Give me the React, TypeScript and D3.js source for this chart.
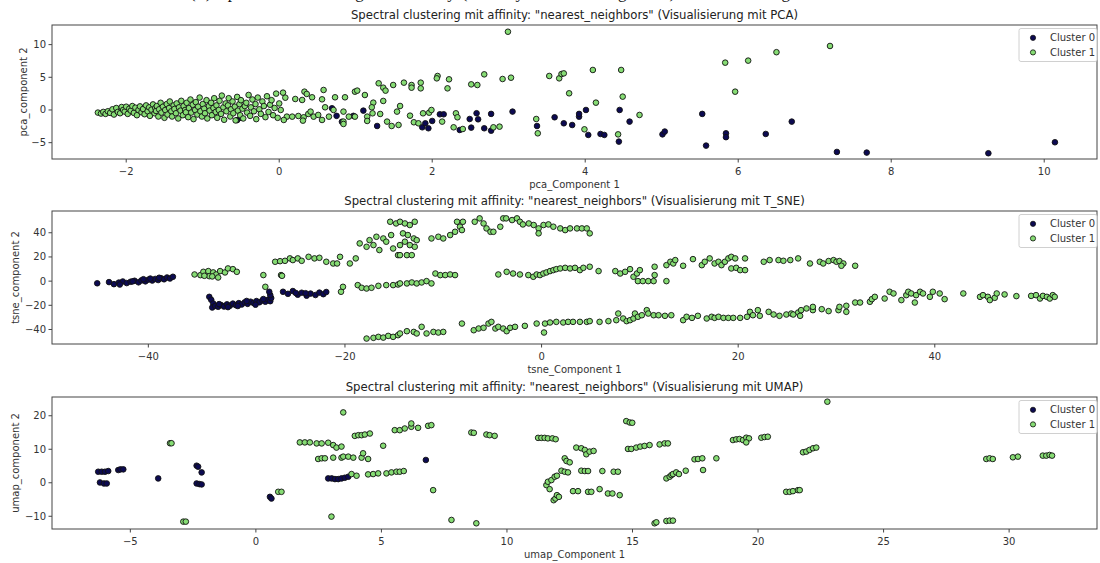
import React from 'react';
import * as d3 from 'd3';

type Pt = [number, number];

// ---- PCA ----
const pcaCluster0: Pt[] = [
  [-0.55, -1.55], [-0.5, -1.2], [0.69, 0.26], [0.75, -0.9], [1.1, -0.1], [0.97, -0.9], [1.28, -2.45], [0.82, -1.8],
  [1.87, -2.65], [1.95, -2.8], [1.91, -2.04], [2.0, -1.68], [2.1, -0.66], [2.15, -0.66], [2.36, -3.06], [2.51, -2.7],
  [2.49, -1.38], [2.58, -0.5], [2.6, -1.43], [2.68, -2.8], [2.77, -3.16], [2.77, -0.6], [3.05, -0.25], [3.37, -2.45],
  [3.6, -1.12], [3.72, -2.04], [3.83, -2.3], [3.92, -1.02], [3.92, -0.6], [4.01, 0], [4.04, -3.82], [4.2, -3.67],
  [4.25, -3.82], [4.45, 0], [4.44, -4.84], [4.58, -1.78], [5.01, -3.73], [5.04, -3.3], [5.53, -0.6], [5.58, -5.45],
  [5.84, -3.57], [5.84, -4.16], [6.36, -3.67], [6.7, -1.78], [7.29, -6.42], [7.68, -6.52], [9.27, -6.62], [10.14, -4.94],
];

const pcaCluster1: Pt[] = [
  [-2.37, -0.4], [-2.33, -0.55], [-2.3, -0.3], [-2.27, -0.6], [-2.24, -0.2], [-2.21, -0.45], [-2.18, 0.1], [-2.16, -0.7],
  [-2.13, 0.3], [-2.11, -0.3], [-2.08, -0.5], [-2.06, 0.45], [-2.04, 0.0], [-2.02, -0.25], [-2.0, 0.5],
  [-1.98, -0.6], [-1.96, 0.2], [-1.94, -0.1], [-1.92, 0.6], [-1.9, -0.45], [-1.88, 0.35], [-1.86, -0.8], [-1.84, 0.0],
  [-1.82, 0.55], [-1.8, -0.35], [-1.78, 0.15], [-1.76, -0.65], [-1.74, 0.7], [-1.72, -0.2], [-1.7, 0.4], [-1.69, -0.9],
  [-1.67, 0.05], [-1.65, 0.85], [-1.63, -0.5], [-1.62, 0.3], [-1.61, -0.15], [-1.6, 0.6],
  [-1.58, -1.0], [-1.57, 0.1], [-1.55, 1.1], [-1.54, -0.4], [-1.52, 0.5], [-1.5, -1.2], [-1.49, 0.0], [-1.47, 0.9],
  [-1.46, -0.7], [-1.44, 0.3], [-1.43, 1.3], [-1.41, -0.2], [-1.4, -1.0], [-1.38, 0.7], [-1.37, 0.15], [-1.35, -0.5],
  [-1.34, 1.0], [-1.32, -1.3], [-1.31, 0.4], [-1.29, -0.1], [-1.28, 1.4], [-1.26, -0.8], [-1.25, 0.6], [-1.23, 0.0],
  [-1.22, -0.35], [-1.21, 1.1],
  [-1.19, -1.1], [-1.18, 0.3], [-1.16, 1.6], [-1.15, -0.4], [-1.13, 0.8], [-1.12, -1.4], [-1.1, 0.0], [-1.09, 1.2],
  [-1.07, -0.7], [-1.06, 0.5], [-1.04, 1.9], [-1.03, -0.2], [-1.01, -1.0], [-1.0, 0.9], [-0.98, 0.2], [-0.97, -0.5],
  [-0.95, 1.5], [-0.94, -1.3], [-0.92, 0.6], [-0.91, -0.1], [-0.89, 1.1], [-0.88, -0.8], [-0.86, 0.3], [-0.85, 1.8],
  [-0.83, -0.3], [-0.82, 0.7], [-0.81, -1.2],
  [-0.79, 0.0], [-0.78, 1.4], [-0.76, -0.6], [-0.75, 2.2], [-0.73, 0.4], [-0.72, -1.5], [-0.7, 1.0], [-0.69, -0.2],
  [-0.67, 0.7], [-0.66, 1.8], [-0.64, -1.0], [-0.63, 0.1], [-0.61, 1.3], [-0.6, -0.5], [-0.58, 0.5], [-0.57, -1.6],
  [-0.55, 2.0], [-0.54, -0.1], [-0.52, 0.9], [-0.51, -0.8], [-0.5, 1.5], [-0.48, 0.2], [-0.47, -1.3], [-0.45, 0.6],
  [-0.43, 1.1], [-0.42, -0.4],
  [-0.4, 2.3], [-0.38, -0.9], [-0.37, 0.4], [-0.35, 1.6], [-0.33, -0.2], [-0.31, 0.9], [-0.3, -1.4], [-0.28, 1.9],
  [-0.26, 0.1], [-0.24, -0.6], [-0.22, 1.3], [-0.2, 0.6], [-0.18, -1.1], [-0.16, 2.1], [-0.14, -0.3], [-0.12, 0.8],
  [-0.1, 1.5], [-0.08, -0.8], [-0.06, 0.3], [-0.04, 2.5], [-0.02, -1.2], [0.0, 1.0], [0.02, 0.0],
  [0.05, 2.65], [0.08, 1.88], [0.21, 1.68], [0.3, 1.53], [0.33, 2.8], [0.36, 2.45], [0.43, 1.94], [0.58, 3.06],
  [0.56, 1.63], [0.73, 1.94], [0.86, 1.94], [0.99, 2.8], [1.02, 2.96], [1.12, 2.29], [1.23, 1.12], [1.3, 4.08],
  [1.36, 3.41], [1.39, 2.96], [1.49, 3.82], [1.36, 1.38], [1.54, -0.25], [1.47, -2.45], [1.56, -2.29],
  [0.1, -1.02], [0.06, -1.53], [0.17, -1.02], [0.25, -0.92], [0.32, -1.12], [0.38, -0.61], [0.31, -1.63], [0.45, -1.02],
  [0.51, -0.76], [0.56, -1.53], [0.65, -1.02], [0.84, -0.25], [0.91, -1.02], [0.84, -1.78], [0.84, -2.14], [0.99, -1.02],
  [1.15, -1.02], [1.15, -1.68], [1.21, 0.41], [1.22, -0.51], [1.32, -0.61], [1.41, -1.78], [0.6, 0.41], [0.71, 0.0],
  [0.41, -0.25], [1.58, 0.61],
  [2.99, 11.97], [1.63, 4.18], [1.73, 3.82], [1.73, 3.41], [1.85, 4.18], [1.85, 3.31], [2.07, 5.2], [2.06, 4.84],
  [2.22, 4.69], [2.2, 3.31], [2.51, 3.92], [2.59, 3.82], [2.68, 5.45], [2.92, 4.74], [3.03, 4.94],
  [1.71, -0.87], [1.76, -1.88], [1.82, -2.04], [1.88, -0.51], [1.96, -0.41], [1.99, 0], [2.13, -1.78], [2.31, -0.51],
  [2.33, -1.12], [2.28, -2.65], [2.4, -2.91], [2.8, -2.65], [2.88, -2.55],
  [3.53, 5.2], [3.66, 4.84], [3.69, 5.5], [3.72, 5.6], [3.79, 2.55], [3.36, -1.38], [3.38, -3.57], [3.99, -2.96],
  [4.1, 6.12], [4.14, 1.12], [4.47, 6.12], [4.49, 2.04], [4.43, -3.73], [4.71, -0.76], [5.83, 7.24], [6.13, 7.55],
  [5.96, 2.8], [6.5, 8.84], [7.2, 9.79],
];

// ---- T-SNE ----
const tsneCluster0: Pt[] = [
  [-45.2, -1.8], [-44.0, -0.8], [-43.5, -2.5], [-43.0, -1.2], [-42.6, -0.3], [-42.2, -1.6], [-41.8, -0.5], [-41.4, 0.3],
  [-41.0, -1.0], [-40.7, 0.6], [-40.3, -0.2], [-40.0, 1.2], [-39.6, 0.5], [-39.3, 1.8], [-39.0, 0.9], [-38.7, 2.4],
  [-38.4, 1.5], [-38.1, 3.0], [-37.8, 2.2], [-37.5, 3.6], [-42.9, -2.8], [-41.6, -0.2], [-40.5, 1.6], [-39.8, 2.1],
  [-38.9, 2.8],
  [-33.8, -13], [-33.6, -15.5], [-33.4, -18.5], [-33.5, -21.8], [-33.2, -20.5], [-32.9, -21.2], [-32.6, -19.8],
  [-32.3, -21], [-32.0, -19.2], [-31.7, -20.3], [-31.4, -18.6], [-31.1, -19.9], [-30.8, -18.2], [-30.5, -19.3],
  [-30.2, -17.6], [-29.9, -18.8], [-29.6, -17.0], [-29.3, -18.1], [-29.0, -16.5], [-28.7, -17.5], [-28.4, -16.0],
  [-28.1, -17.0], [-27.8, -15.3], [-27.6, -16.6], [-27.5, -14.0], [-27.6, -11.5], [-27.7, -8.8], [-32.8, -19.0],
  [-31.9, -21.5], [-30.9, -20.6], [-30.0, -16.4], [-29.1, -19.5], [-28.3, -14.8],
  [-26.3, -8.8], [-25.8, -10.5], [-25.3, -8.2], [-24.8, -11.2], [-24.4, -9.6], [-23.9, -12.0], [-23.5, -10.3],
  [-23.0, -11.5], [-22.6, -9.5], [-22.2, -10.8], [-21.9, -9.0], [-25.0, -9.8], [-24.0, -10.0],
];

const tsneCluster1: Pt[] = [
  [-35.3, 5.5], [-34.7, 4.96], [-34.4, 7.7], [-33.9, 8.3], [-33.4, 7.2], [-33.8, 4.1], [-33.1, 5.5], [-32.9, 3.0],
  [-32.7, 8.3], [-32.2, 7.2], [-31.9, 10.5], [-31.4, 9.9], [-31.0, 7.7], [-34.3, 4.4], [-33.5, 3.9], [-28.3, 5.0],
  [-28.1, -4.7], [-26.5, 5.0], [-26.4, 4.4], [-27.1, 16.0], [-26.6, 16.5], [-26.1, 16.8], [-25.6, 18.8], [-25.3, 17.4],
  [-24.8, 18.8], [-24.4, 16.8], [-23.7, 20.1], [-23.1, 18.8], [-22.6, 19.3], [-21.9, 16.0], [-21.2, 14.6], [-20.8, 14.6],
  [-20.5, 20.1], [-19.5, 14.6], [-18.9, 18.8],
  [-20.4, -8.8], [-20.2, -4.7], [-18.7, -3.3], [-18.3, -5.5], [-17.8, -6.1], [-17.3, -5.5], [-16.6, -3.9], [-15.8, -3.3],
  [-15.1, -3.3], [-14.6, -2.8],
  [-18.5, 31.2], [-17.8, 28.4], [-17.5, 33.9], [-17.1, 29.8], [-16.8, 36.7], [-16.5, 25.7], [-16.1, 35.3], [-15.8, 32.6],
  [-15.4, 49.1], [-15.3, 38.1], [-15.1, 27.0], [-14.8, 47.7], [-14.6, 21.5],
  [-17.8, -47.5], [-17.1, -46.9], [-16.6, -46.1], [-16.1, -46.7], [-15.6, -45.3], [-15.1, -46.1], [-14.6, -44.7],
  [-14.4, 49.1], [-13.9, 47.7], [-13.4, 46.4], [-12.9, 49.1], [-14.1, 39.5], [-13.6, 38.1], [-13.0, 35.3], [-13.9, 32.6],
  [-13.4, 29.8], [-12.9, 28.4], [-12.7, 33.9], [-14.4, 29.8], [-14.4, 21.5], [-13.7, 21.5], [-13.2, 21.5], [-11.2, 35.3],
  [-10.5, 36.7], [-10.0, 35.3], [-9.3, 38.1], [-8.8, 40.8], [-8.6, 49.1], [-8.3, 45.0], [-8.0, 49.1], [-8.1, 42.2],
  [-6.8, 49.1], [-6.3, 51.9], [-5.9, 47.7], [-5.6, 43.6], [-5.2, 40.8], [-4.9, 40.8], [-4.2, 45.0], [-3.9, 51.9],
  [-3.6, 51.9], [-3.0, 50.5], [-2.5, 51.9], [-2.2, 49.1], [-1.9, 46.9], [-1.3, 47.7], [-0.8, 46.4], [-0.3, 43.6],
  [-0.3, 39.5], [0.2, 46.4], [0.7, 46.9], [1.2, 45.0], [1.9, 43.6], [2.4, 42.2], [2.9, 43.6], [3.6, 43.6], [4.1, 43.6],
  [4.6, 43.6], [4.9, 39.5],
  [-14.4, -1.9], [-13.7, -1.9], [-13.2, -1.1], [-12.7, -1.9], [-12.2, -1.1], [-11.7, 0.0], [-11.2, -1.9], [-10.8, 6.3],
  [-10.3, 4.96], [-9.8, 5.0], [-9.3, 5.5], [-8.8, 5.0], [-4.4, 5.5], [-3.55, 7.7], [-2.9, 6.3], [-2.2, 5.5], [-1.35, 5.0],
  [-0.84, 3.6], [-0.5, 5.5], [-0.16, 5.0], [0.18, 6.3], [0.5, 7.2], [0.86, 8.3], [1.2, 9.1], [1.5, 9.9], [1.9, 10.5],
  [2.4, 11.0], [2.9, 10.5], [3.4, 11.0], [3.9, 9.1], [4.25, 11.0], [4.9, 11.9], [5.8, 8.3], [7.5, 8.3], [8.0, 6.3],
  [8.5, 7.7], [9.0, 9.9], [9.35, 3.6], [9.7, 6.3], [10.0, 9.1], [9.8, 0.0], [10.3, 0.0], [10.85, 0.0], [11.4, 0.0],
  [11.5, 5.0], [11.5, 11.9], [12.7, 0.0], [12.7, 13.2], [13.1, 16.0], [13.4, 14.6], [13.6, 17.4], [14.4, 12.7],
  [15.4, 18.2], [16.3, 13.2], [16.6, 16.0], [17.1, 18.8], [17.6, 14.6], [18.0, 16.0], [18.3, 13.2], [18.65, 16.0],
  [19.0, 18.8], [19.3, 20.1], [19.7, 18.8], [19.3, 10.5], [19.8, 11.0], [20.2, 9.1], [20.7, 9.1], [20.7, 18.8],
  [22.6, 16.0], [23.2, 17.4], [24.1, 17.4], [24.6, 16.8], [25.3, 17.4], [26.1, 18.8], [27.3, 14.6], [28.3, 16.0],
  [28.65, 14.6], [29.2, 16.6], [29.7, 17.4], [30.0, 16.0], [30.3, 16.6], [30.7, 14.6], [30.5, 12.7], [31.9, 12.7],
  [-14.4, -43.3], [-13.7, -41.4], [-13.0, -42.0], [-12.7, -43.3], [-12.2, -37.8], [-11.7, -43.3], [-11.0, -42.0],
  [-10.5, -42.5], [-10.0, -42.0], [-8.1, -35.1], [-6.9, -40.6], [-6.4, -39.2], [-5.9, -38.6], [-5.4, -35.1],
  [-5.1, -33.7], [-4.7, -39.2], [-4.4, -37.8], [-3.9, -39.2], [-3.55, -41.4], [-3.2, -38.6], [-2.7, -37.8],
  [-1.7, -37.0], [-0.5, -35.1], [0.25, -42.5], [0.35, -35.1], [0.86, -34.2], [1.5, -33.7], [2.2, -34.2], [2.7, -33.7],
  [3.2, -33.7], [3.9, -33.7], [4.6, -33.7], [4.9, -33.1], [5.9, -33.7], [6.8, -33.1], [7.6, -32.3], [7.8, -26.8],
  [8.3, -30.9], [8.65, -33.1], [9.0, -32.3], [9.35, -30.9], [9.5, -26.8], [9.8, -29.5], [10.2, -28.2], [10.7, -24.0],
  [10.85, -26.8], [11.4, -28.2], [11.9, -28.2], [12.55, -28.7], [13.2, -28.2], [14.4, -32.3], [14.75, -29.5],
  [15.3, -30.4], [15.9, -28.7], [16.8, -30.9], [17.3, -29.5], [17.6, -30.4], [18.0, -29.5], [18.5, -30.4],
  [19.0, -30.4], [19.5, -30.4], [20.2, -30.4], [20.9, -29.5], [21.2, -25.4], [21.5, -28.2], [22.0, -24.0],
  [22.2, -28.7], [23.1, -25.4], [23.6, -27.6], [24.2, -28.7], [24.9, -27.6], [25.4, -26.8], [26.1, -26.0],
  [25.6, -27.6], [26.3, -28.7], [26.4, -24.0], [26.95, -22.6], [27.6, -24.0], [27.6, -21.3], [28.5, -23.2],
  [29.2, -24.8], [30.2, -24.0], [30.3, -21.3], [31.0, -25.4], [31.0, -20.4], [31.9, -17.7], [32.4, -17.7],
  [33.4, -17.1], [33.6, -14.9], [33.9, -13.0], [34.9, -14.4], [35.4, -8.8], [35.8, -10.2], [36.6, -15.7],
  [37.1, -11.6], [37.3, -8.8], [37.6, -10.2], [37.97, -17.7], [38.1, -11.6], [38.5, -8.8], [38.8, -10.2],
  [39.5, -13.0], [39.8, -8.8], [40.5, -10.2], [41.0, -14.9], [42.9, -10.2], [44.6, -13.0], [44.9, -11.6],
  [45.4, -13.0], [45.6, -15.7], [46.1, -13.8], [46.3, -10.2], [47.1, -11.0], [48.3, -12.4], [49.8, -12.2],
  [50.3, -11.6], [50.7, -14.4], [51.0, -12.2], [51.4, -13.0], [51.7, -14.4], [52.0, -11.6], [52.2, -13.0],
];

// ---- UMAP ----
const umapCluster0: Pt[] = [
  [-6.28, 3.3], [-6.14, 3.3], [-6.01, 3.3], [-5.88, 3.5], [-6.21, 0.1], [-6.05, -0.2], [-5.94, -0.2], [-5.48, 3.8],
  [-5.39, 4.0], [-5.28, 4.0], [-3.89, 1.3], [-2.36, 5.1], [-2.3, 4.8], [-2.16, 3.1], [-2.36, -0.2], [-2.25, -0.4],
  [-2.16, -0.5], [0.56, -4.2], [0.62, -4.7], [2.88, 1.3], [3.02, 1.3], [3.15, 1.1], [3.28, 1.1], [3.41, 1.3],
  [3.54, 1.5], [3.68, 1.8], [6.77, 6.8],
];

const umapCluster1: Pt[] = [
  [-3.42, 11.8], [-3.36, 11.8], [-2.89, -11.6], [-2.79, -11.6], [0.89, -2.7], [1.02, -2.7], [1.75, 12.05], [1.95, 12.05],
  [2.15, 12.05], [2.42, 11.75], [2.62, 11.75], [2.88, 11.95], [3.08, 11.25], [3.21, 10.5], [3.41, 10.8], [2.48, 7.1],
  [2.62, 7.3], [2.75, 7.3], [3.08, 7.5], [3.41, 7.5], [3.48, 7.8], [3.68, 7.8], [3.88, 7.5], [3.01, -10.1], [3.48, 21.0],
  [3.94, 14.0], [4.08, 14.2], [4.21, 14.2], [4.34, 14.4], [4.54, 14.7], [4.21, 7.5], [4.27, 8.8], [4.47, 7.1],
  [3.81, 2.6], [4.01, 2.1], [4.47, 2.5], [4.67, 2.6], [4.87, 2.8], [5.07, 11.05], [5.2, 2.8], [5.4, 3.1], [5.6, 3.3],
  [5.53, 15.7], [5.73, 15.7], [5.93, 16.2], [6.19, 16.7], [6.19, 17.7], [6.46, 16.4], [6.86, 17.0], [6.99, 17.2],
  [5.73, 3.3], [5.89, 3.5], [7.06, -2.2], [7.79, -11.1], [8.78, -12.1], [8.58, 15.0], [8.68, 14.9], [9.18, 14.4],
  [9.31, 14.2], [9.51, 14.0], [11.24, 13.4], [11.37, 13.4], [11.5, 13.4], [11.63, 13.25], [11.81, 13.25], [11.94, 13.0],
  [12.3, 7.3], [12.37, 6.5], [12.5, 6.1], [12.76, 10.5], [12.96, 10.3], [13.1, 9.8], [13.16, 8.5], [13.29, 9.3],
  [13.45, 9.5], [12.17, 3.6], [12.3, 3.3], [12.43, 3.1], [12.96, 3.6], [13.1, 3.5], [13.23, 3.5], [13.8, 3.5],
  [14.25, 3.3], [14.42, 3.3], [11.57, -0.7], [11.63, 0.3], [11.77, 0.8], [11.9, 1.8], [11.99, 2.1], [11.7, -1.9],
  [11.86, -5.2], [11.93, -4.7], [11.99, -3.7], [12.07, -4.2], [12.63, -2.5], [12.83, -2.5], [13.23, -2.7], [13.36, -2.7],
  [13.69, -1.9], [14.02, -3.2], [14.2, -3.2], [14.49, -3.7], [14.75, 18.4], [14.89, 18.0], [14.99, 17.9], [14.82, 10.1],
  [14.95, 10.1], [15.15, 10.5], [15.31, 10.8], [15.48, 11.0], [15.68, 11.25], [16.08, 11.45], [16.28, 11.75],
  [16.41, 11.75], [15.88, -12.1], [15.95, -11.8], [16.35, -11.4], [16.48, -11.3], [16.61, -11.3], [16.35, 1.3],
  [16.48, 1.8], [16.55, 2.3], [16.61, 2.6], [16.74, 3.1], [16.85, 2.6], [17.12, 3.6], [17.47, 7.0], [17.61, 7.1],
  [17.78, 7.3], [18.34, 7.3], [17.81, 3.8], [19.0, 12.75], [19.13, 12.95], [19.26, 13.05], [19.4, 12.75],
  [19.53, 13.45], [19.64, 13.25], [19.53, 12.05], [20.13, 13.45], [20.26, 13.65], [20.39, 13.75], [21.12, -2.7],
  [21.26, -2.7], [21.39, -2.5], [21.59, -2.2], [21.66, -2.2], [21.79, 9.1], [21.92, 9.3], [22.05, 9.8], [22.19, 10.3],
  [22.32, 10.5], [22.76, 24.2], [29.09, 7.1], [29.22, 7.3], [29.35, 7.1], [30.15, 7.6], [30.35, 7.8], [31.34, 8.1],
  [31.48, 8.1], [31.61, 8.3], [31.71, 8.1],
];

const legendLabels = ['Cluster 0', 'Cluster 1'];
const colors = ['#0c0a52', '#86dc74'];

const pcaXTicks = [-2, 0, 2, 4, 6, 8, 10];
const pcaYTicks = [-5, 0, 5, 10];
const tsneXTicks = [-40, -20, 0, 20, 40];
const tsneYTicks = [-40, -20, 0, 20, 40];
const umapXTicks = [-5, 0, 5, 10, 15, 20, 25, 30];
const umapYTicks = [-10, 0, 10, 20];

const FONT = 'DejaVu Sans, sans-serif';
const LEFT = 52;
const RIGHT = 1097;
const fmt = (v: number) => (v < 0 ? '\u2212' + Math.abs(v) : String(v));

interface PanelProps {
  title: string;
  xLabel: string;
  yLabel: string;
  c0: Pt[];
  c1: Pt[];
  xDomain: [number, number];
  yDomain: [number, number];
  xTicks: number[];
  yTicks: number[];
  top: number;
  bottom: number;
  yLabelX: number;
}

const Panel = (p: PanelProps) => {
  const x = d3.scaleLinear().domain(p.xDomain).range([LEFT, RIGHT]);
  const y = d3.scaleLinear().domain(p.yDomain).range([p.bottom, p.top]);
  const midY = (p.top + p.bottom) / 2;
  const dot = (d: Pt, i: number, fill: string) => (
    <circle key={i} cx={x(d[0])} cy={y(d[1])} r={2.8} fill={fill} stroke="#111" strokeWidth={0.9} />
  );
  return (
    <g fontFamily={FONT}>
      <text x={(LEFT + RIGHT) / 2} y={p.top - 6} textAnchor="middle" fontSize={11.7} fill="#222">
        {p.title}
      </text>
      {p.c0.map((d, i) => dot(d, i, colors[0]))}
      {p.c1.map((d, i) => dot(d, i, colors[1]))}
      <rect x={LEFT} y={p.top} width={RIGHT - LEFT} height={p.bottom - p.top} fill="none" stroke="#444" strokeWidth={1} />
      {p.xTicks.map(t => (
        <g key={t} transform={`translate(${x(t)},${p.bottom})`}>
          <line y2={3.5} stroke="#444" />
          <text y={15.5} textAnchor="middle" fontSize={10} fill="#333">{fmt(t)}</text>
        </g>
      ))}
      {p.yTicks.map(t => (
        <g key={t} transform={`translate(${LEFT},${y(t)})`}>
          <line x2={-3.5} stroke="#444" />
          <text x={-6} dy="0.35em" textAnchor="end" fontSize={10} fill="#333">{fmt(t)}</text>
        </g>
      ))}
      <text x={(LEFT + RIGHT) / 2} y={p.bottom + 29} textAnchor="middle" fontSize={10} fill="#333">
        {p.xLabel}
      </text>
      <text transform={`translate(${p.yLabelX},${midY}) rotate(-90)`} dy="0.35em" textAnchor="middle" fontSize={10} fill="#333">
        {p.yLabel}
      </text>
      <g transform={`translate(1019,${p.top + 3.5})`}>
        <rect width={78} height={33} rx={2} fill="#fff" fillOpacity={0.85} stroke="#d0d0d0" />
        {legendLabels.map((l, i) => (
          <g key={l} transform={`translate(0,${9.3 + i * 14.6})`}>
            <circle cx={14} r={2.6} fill={colors[i]} stroke="#111" strokeWidth={0.8} />
            <text x={31} dy="0.35em" fontSize={10} fill="#333">{l}</text>
          </g>
        ))}
      </g>
    </g>
  );
};

export default function App() {
  return (
    <svg width={1100} height={563} style={{ position: 'absolute', left: 0, top: 0, background: '#fff' }}>
      <rect width={1100} height={563} fill="#fff" />
      {/* caption of the figure, cut off at the top edge as in the reference */}
      <text x={190} y={-2} fontFamily="Liberation Serif, serif" fontSize={17} textLength={600} fill="#111">
        (b) Spectral Clustering mit affinity (affinity: nearest neighbors) Visualisierung
      </text>
      <Panel
        title={'Spectral clustering mit affinity: "nearest_neighbors" (Visualisierung mit PCA)'}
        xLabel="pca_Component 1"
        yLabel="pca_component 2"
        c0={pcaCluster0}
        c1={pcaCluster1}
        xDomain={[-2.97, 10.69]}
        yDomain={[-7.5, 13.0]}
        xTicks={pcaXTicks}
        yTicks={pcaYTicks}
        top={25}
        bottom={159}
        yLabelX={23}
      />
      <Panel
        title={'Spectral clustering mit affinity: "nearest_neighbors" (Visualisierung mit T_SNE)'}
        xLabel="tsne_Component 1"
        yLabel="tsne_component 2"
        c0={tsneCluster0}
        c1={tsneCluster1}
        xDomain={[-49.8, 56.5]}
        yDomain={[-52, 58]}
        xTicks={tsneXTicks}
        yTicks={tsneYTicks}
        top={211}
        bottom={344}
        yLabelX={15}
      />
      <Panel
        title={'Spectral clustering mit affinity: "nearest_neighbors" (Visualisierung mit UMAP)'}
        xLabel="umap_Component 1"
        yLabel="umap_component 2"
        c0={umapCluster0}
        c1={umapCluster1}
        xDomain={[-8.12, 33.5]}
        yDomain={[-13.8, 25.6]}
        xTicks={umapXTicks}
        yTicks={umapYTicks}
        top={397}
        bottom={529}
        yLabelX={15}
      />
    </svg>
  );
}
